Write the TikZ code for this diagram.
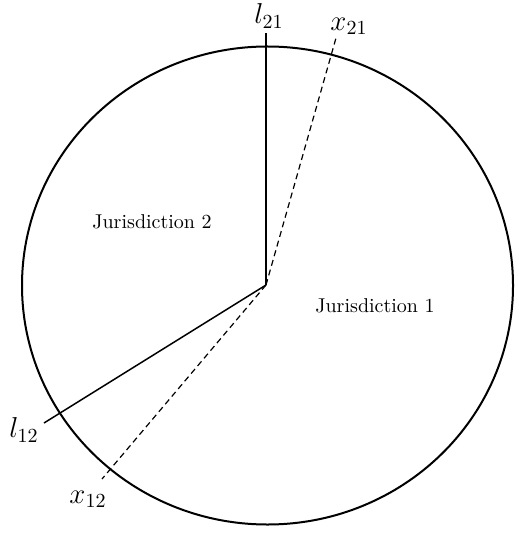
\documentclass[tikz,border=0pt]{standalone}
\usepackage{amsmath}
\usetikzlibrary{positioning}
\tikzset{
    % border of the whole area
    border/.style={
        draw=black,
        line width=1pt
    },
    % boundary lines
    solidline/.style={
        draw=black,
        line width=0.75pt
    },
    dashline/.style={
        draw=black,
        line width=0.6pt,
        dash pattern=on 3pt off 2pt
    },
    regionlabel/.style={
        font=\normalsize
    },
    linelabel/.style={
        font=\Large,
        inner sep=0pt
    }
}
\begin{document}
\begin{tikzpicture}[x=0.5pt, y=-0.5pt]
    \useasboundingbox (0,0) rectangle (514,534);

    \coordinate (hub) at (266,285);
    \draw[border] (267.5,285.5) ellipse [x radius=245.5, y radius=239];

    \coordinate (l21end) at (266,33);
    \coordinate (x21end) at (336,38);
    \coordinate (l12end) at (44,423);
    \coordinate (x12end) at (102,479);

    \draw[solidline] (hub) -- (l21end);
    \draw[solidline] (hub) -- (l12end);
    \draw[dashline] (hub) -- (x21end);
    \draw[dashline] (hub) -- (x12end);

    \node[linelabel] (l21) at (269,16) {$l_{21}$};
    \node[linelabel] (x21) at (349,26) {$x_{21}$};
    \node[linelabel] (l12) at (24,430) {$l_{12}$};
    \node[linelabel] (x12) at (88,499) {$x_{12}$};

    \node[regionlabel] (jur2) at (152,222) {Jurisdiction 2};
    \node[regionlabel] (jur1) at (375,306) {Jurisdiction 1};
\end{tikzpicture}
\end{document}
